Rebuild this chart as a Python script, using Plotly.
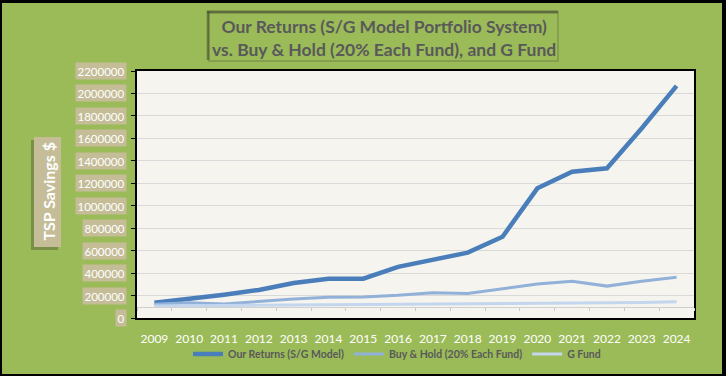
import plotly.graph_objects as go

years = [str(y) for y in range(2009, 2025)]
our_returns = [136000, 168000, 208000, 250000, 312000, 350000, 350000, 455000,
               522000, 582000, 724000, 1155000, 1303000, 1333000, 1690000, 2067000]
buy_hold = [122000, 136000, 125000, 148000, 170000, 184000, 188000, 203000,
            225000, 218000, 258000, 302000, 328000, 284000, 328000, 362000]
g_fund = [106000, 108000, 111000, 113000, 114000, 116000, 118000, 121000,
          124000, 126000, 127000, 129000, 133000, 135000, 138000, 144000]
y_ticks = list(range(0, 2200001, 200000))
y_tick_labels = [str(v) for v in y_ticks]
axis_cross = 100000

W, H = 726, 376
L, R, T, B = 137, 694, 71, 318
PW, PH = R - L, B - T
YMAX = 2200000

def fx(px):
    return (px - L) / PW

def fy(py):
    return (B - py) / PH

GREEN = "#9bbb59"
TAN = "#c4bd97"
TXT = "#595959"
FONT = "Lato"

fig = go.Figure()
fig.add_trace(go.Scatter(x=years, y=our_returns, name="Our Returns (S/G Model)",
                         mode="lines", line=dict(color="#4a7ebb", width=4.5)))
fig.add_trace(go.Scatter(x=years, y=buy_hold, name="Buy & Hold (20% Each Fund)",
                         mode="lines", line=dict(color="#92b1d8", width=3)))
fig.add_trace(go.Scatter(x=years, y=g_fund, name="G Fund",
                         mode="lines", line=dict(color="#c3d6ee", width=3)))
# helper trace for the crossing category axis
fig.add_trace(go.Scatter(x=[0], y=[axis_cross], xaxis="x2", mode="markers",
                         marker=dict(opacity=0), showlegend=False, hoverinfo="skip"))

def prect(x0, x1, y0, y1, **kw):
    return dict(type="rect", xref="paper", yref="paper", x0=fx(x0), x1=fx(x1),
                y0=fy(y1), y1=fy(y0), layer="below", **kw)

shapes = [
    # outer black frame
    prect(0, 2, 0, H, fillcolor="black", line=dict(width=0)),
    prect(0, W, 0, 3, fillcolor="black", line=dict(width=0)),
    prect(722, W, 0, H, fillcolor="black", line=dict(width=0)),
    prect(0, W, 374, H, fillcolor="black", line=dict(width=0)),
    # title box shadow
    prect(209, 558, 12, 61, fillcolor="rgba(0,0,0,0)",
          line=dict(color="rgba(70,75,50,0.25)", width=2)),
    dict(type="line", xref="paper", yref="paper", x0=fx(207), x1=fx(558), y0=fy(12), y1=fy(12),
         line=dict(color="rgba(70,75,50,0.6)", width=3), layer="below"),
    dict(type="line", xref="paper", yref="paper", x0=fx(208), x1=fx(208), y0=fy(60), y1=fy(11),
         line=dict(color="rgba(70,75,50,0.6)", width=2.5), layer="below"),
    # y-axis title box with shadow
    prect(31, 58, 140, 250, fillcolor="rgba(80,90,50,0.45)", line=dict(width=0)),
    prect(34, 61, 137, 247, fillcolor=TAN, line=dict(width=0)),
]

annotations = [
    dict(xref="paper", yref="paper", x=fx(384), y=fy(38), xanchor="center", yanchor="middle",
         text="Our Returns (S/G Model Portfolio System)<br>vs. Buy & Hold (20% Each Fund), and G Fund",
         showarrow=False, font=dict(family=FONT, size=17.5, color=TXT, weight="bold")),
    dict(xref="paper", yref="paper", x=fx(47.5), y=fy(192), xanchor="center", yanchor="middle",
         text="TSP Savings $", textangle=-90, showarrow=False,
         font=dict(family=FONT, size=16, color="white", weight="bold")),
]
for v, lab in zip(y_ticks, y_tick_labels):
    annotations.append(dict(xref="paper", yref="y", x=fx(126.5), y=v, xanchor="right",
                            yanchor="middle", text=lab, showarrow=False, bgcolor=TAN,
                            borderpad=1.5,
                            font=dict(family=FONT, size=11.5, color="white")))

fig.update_layout(
    width=W, height=H,
    margin=dict(l=L, r=W - R, t=T, b=H - B, autoexpand=False),
    paper_bgcolor=GREEN,
    plot_bgcolor="#f5f4ef",
    shapes=shapes,
    annotations=annotations,
    showlegend=True,
    legend=dict(orientation="h", x=fx(397), xanchor="center", y=fy(354), yanchor="middle",
                font=dict(family=FONT, size=10.5, color=TXT, weight="bold"),
                bgcolor="rgba(0,0,0,0)", itemwidth=30, tracegroupgap=0),
    xaxis=dict(type="category", range=[-0.5, 15.5], showgrid=False, zeroline=False,
               showline=True, linecolor="black", linewidth=1.5, mirror=True,
               ticks="", ticklabelstandoff=9, automargin=False,
               tickfont=dict(family=FONT, size=12, color="white")),
    xaxis2=dict(overlaying="x", anchor="free", position=axis_cross / YMAX,
                range=[-0.5, 15.5], tickmode="linear", tick0=0.5, dtick=1,
                showticklabels=False, showgrid=False, zeroline=False,
                showline=True, linecolor="#d0d0d0", linewidth=1, automargin=False,
                ticks="outside", ticklen=3, tickcolor="#c8c8c8", tickwidth=1),
    yaxis=dict(range=[0, YMAX], tickvals=y_ticks, showticklabels=False,
               showgrid=True, gridcolor="#d9d9d9", gridwidth=1, zeroline=False,
               showline=True, linecolor="black", linewidth=1.5, mirror=True, automargin=False,
               ticks="outside", ticklen=4, tickcolor="black"),
)

fig.write_html("out.html", config={"displayModeBar": False},
               post_script="document.body.style.margin='0';document.body.style.overflow='hidden';")
